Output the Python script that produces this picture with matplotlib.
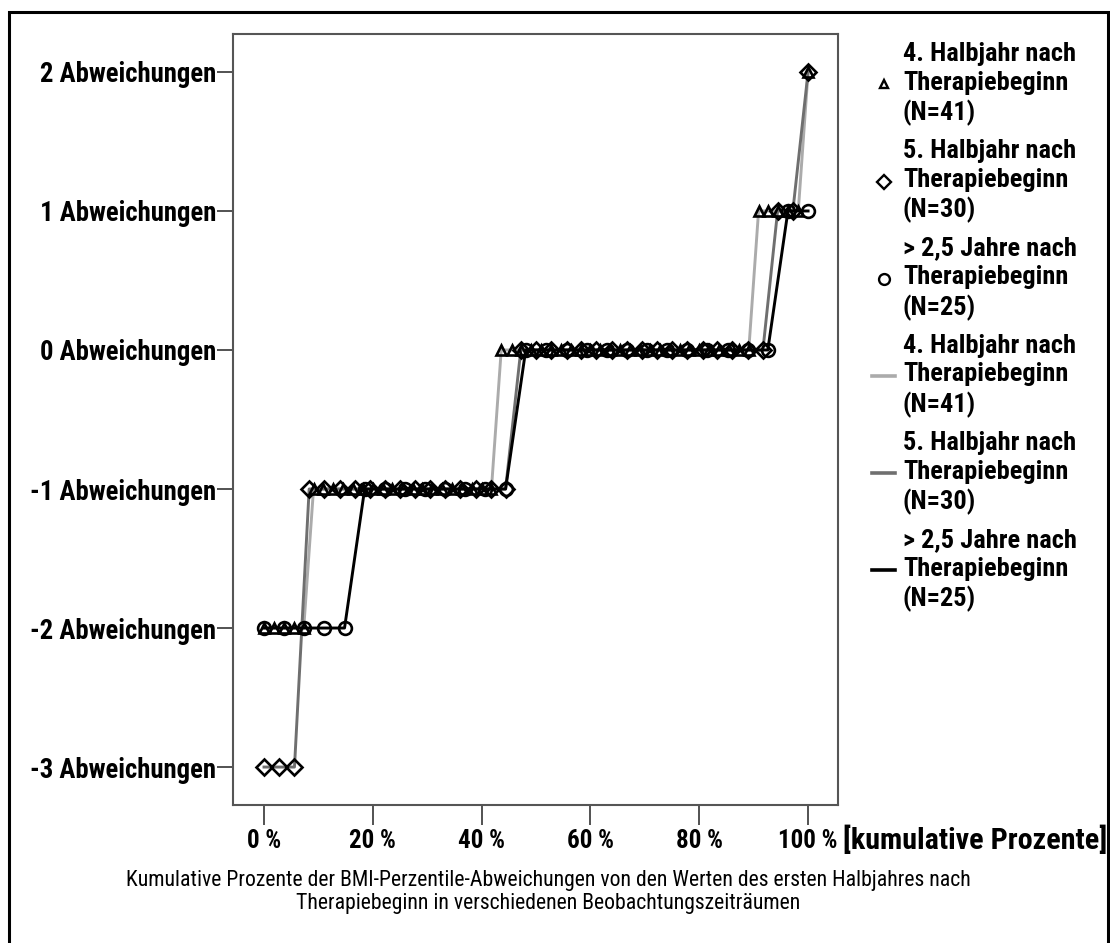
import matplotlib
matplotlib.use("Agg")
import matplotlib.pyplot as plt
from matplotlib import font_manager
from matplotlib.lines import Line2D
from matplotlib.patches import Rectangle

# the original uses a narrow Arial-like face; take the closest one installed
ttf = font_manager.fontManager.ttflist
names = {f.name for f in ttf}
FONT, STRETCH = "Liberation Sans", "normal"
for n in ["Liberation Sans Narrow", "Arial Narrow", "Roboto Condensed",
          "Open Sans Condensed", "Noto Sans Condensed"]:
    if n in names:
        FONT = n
        break
else:
    for n in ["Roboto", "Noto Sans", "Open Sans", "DejaVu Sans"]:
        if any(f.name == n and f.stretch == "condensed" for f in ttf):
            FONT, STRETCH = n, "condensed"
            break
plt.rcParams["font.family"] = [FONT, "DejaVu Sans"]
plt.rcParams["font.stretch"] = STRETCH

# y categories (deviation of BMI percentile class)
y_ticks = [-3, -2, -1, 0, 1, 2]
y_labels = ["-3 Abweichungen", "-2 Abweichungen", "-1 Abweichungen",
            "0 Abweichungen", "1 Abweichungen", "2 Abweichungen"]
x_ticks = [0, 20, 40, 60, 80, 100]
x_labels = ["0 %", "20 %", "40 %", "60 %", "80 %", "100 %"]

series_names = ["4. Halbjahr nach\nTherapiebeginn\n(N=41)",
                "5. Halbjahr nach\nTherapiebeginn\n(N=30)",
                "> 2,5 Jahre nach\nTherapiebeginn\n(N=25)"]

# 4. Halbjahr (triangles, light grey)
pct_4 = [0.0, 1.8, 3.6, 5.5, 7.3,
         9.1, 10.9, 12.7, 14.5, 16.4, 18.2, 20.0, 21.8, 23.6, 25.5, 27.3, 29.1,
         30.9, 32.7, 34.5, 36.4, 38.2, 40.0, 41.8,
         43.6, 45.5, 47.3, 49.1, 50.9, 52.7, 54.5, 56.4, 58.2, 60.0, 61.8, 63.6,
         65.5, 67.3, 69.1, 70.9, 72.7, 74.5, 76.4, 78.2, 80.0, 81.8, 83.6, 85.5,
         87.3, 89.1,
         90.9, 92.7, 94.5, 96.4, 98.2,
         100.0]
dev_4 = [-2, -2, -2, -2, -2,
         -1, -1, -1, -1, -1, -1, -1, -1, -1, -1, -1, -1,
         -1, -1, -1, -1, -1, -1, -1,
         0, 0, 0, 0, 0, 0, 0, 0, 0, 0, 0, 0,
         0, 0, 0, 0, 0, 0, 0, 0, 0, 0, 0, 0,
         0, 0,
         1, 1, 1, 1, 1,
         2]

# 5. Halbjahr (diamonds, mid grey)
pct_5 = [0.0, 2.8, 5.6,
         8.3, 11.1, 13.9, 16.7, 19.4, 22.2, 25.0, 27.8, 30.6, 33.3, 36.1, 38.9,
         41.7, 44.4,
         47.2, 50.0, 52.8, 55.6, 58.3, 61.1, 63.9, 66.7, 69.4, 72.2, 75.0, 77.8,
         80.6, 83.3, 86.1, 88.9, 91.7,
         94.4, 97.2,
         100.0]
dev_5 = [-3, -3, -3,
         -1, -1, -1, -1, -1, -1, -1, -1, -1, -1, -1, -1,
         -1, -1,
         0, 0, 0, 0, 0, 0, 0, 0, 0, 0, 0, 0,
         0, 0, 0, 0, 0,
         1, 1,
         2]

# > 2,5 Jahre (circles, black)
pct_25 = [0.0, 3.7, 7.4, 11.1, 14.8,
          18.5, 22.2, 25.9, 29.6, 33.3, 37.0, 40.7, 44.4,
          48.1, 51.9, 55.6, 59.3, 63.0, 66.7, 70.4, 74.1, 77.8, 81.5, 85.2,
          88.9, 92.6,
          96.3, 100.0]
dev_25 = [-2, -2, -2, -2, -2,
          -1, -1, -1, -1, -1, -1, -1, -1,
          0, 0, 0, 0, 0, 0, 0, 0, 0, 0, 0,
          0, 0,
          1, 1]

colors = ["#ababab", "#6f6f6f", "#000000"]
markers = ["^", "D", "o"]
msizes = [7.0, 8.5, 9.2]

W, H = 1110, 943
fig = plt.figure(figsize=(W / 100, H / 100), dpi=100)
renderer = fig.canvas.get_renderer()


def size_for(s, width_px, weight="normal"):
    # font size (pt) at which string s is width_px wide
    t = fig.text(0, 0, s, fontsize=10, fontweight=weight)
    w = t.get_window_extent(renderer).width
    t.remove()
    return 10 * width_px / w


def text_heights(fs, weight):
    # height of one line and the extra height per added line (linespacing 1)
    t1 = fig.text(0, 0, "Ag", fontsize=fs, fontweight=weight, linespacing=1.0)
    t2 = fig.text(0, 0, "Ag\nAg", fontsize=fs, fontweight=weight,
                  linespacing=1.0)
    h1 = t1.get_window_extent(renderer).height
    h2 = t2.get_window_extent(renderer).height
    t1.remove()
    t2.remove()
    return h1, h2 - h1


fs_y = size_for("2 Abweichungen", 176, "bold")
fs_x = size_for("100 %", 60, "bold")
fs_unit = size_for("[kumulative Prozente]", 264, "bold")
fs_leg = size_for("4. Halbjahr nach", 172, "bold")
fs_cap = size_for("Kumulative Prozente der BMI-Perzentile-Abweichungen von den "
                  "Werten des ersten Halbjahres nach", 841)

ax = fig.add_axes([233 / W, 1 - 805 / H, (838 - 233) / W, (805 - 34) / H])

data = [(pct_4, dev_4), (pct_5, dev_5), (pct_25, dev_25)]
for (px, dv), c in zip(data, colors):
    ax.plot(px, dv, color=c, lw=2.1, zorder=2)
for (px, dv), m, ms in zip(data, markers, msizes):
    ax.plot(px, dv, ls="none", marker=m, ms=ms, mfc="none", mec="black",
            mew=1.9, zorder=3)

ax.set_xlim(-5.7, 105.5)
ax.set_ylim(-3.273, 2.273)
ax.set_yticks(y_ticks, y_labels, fontsize=fs_y, fontweight="bold")
ax.set_xticks(x_ticks, x_labels, fontsize=fs_x, fontweight="bold")
ax.tick_params(axis="y", length=11.5, width=1.3, color="#444444", pad=0.5)
ax.tick_params(axis="x", length=14.4, width=1.3, color="#444444", pad=3)
for s in ax.spines.values():
    s.set_color("#555555")
    s.set_linewidth(1.5)

# legend: markers first, then lines; 30 px line pitch, 97 px entry pitch
leg_px = fs_leg * 100 / 72
h1, per_line = text_heights(fs_leg, "bold")
ls_leg = 30 / per_line
gap = 97 - (2 * 30 + h1)
handles = [Line2D([], [], ls="none", marker=m, ms=ms * 0.85, mfc="none",
                  mec="black", mew=1.7) for m, ms in zip(markers, msizes)]
handles += [Line2D([], [], color=c, lw=2.6) for c in colors]
leg = fig.legend(handles, series_names * 2, loc="upper left",
                 bbox_to_anchor=(872 / W, 1 - 42 / H), frameon=False,
                 borderpad=0, borderaxespad=0, handlelength=23 / leg_px,
                 handletextpad=8 / leg_px, labelspacing=max(gap, 0) / leg_px,
                 prop={"size": fs_leg, "weight": "bold"})
for t in leg.get_texts():
    t.set_linespacing(ls_leg)

fig.text(843 / W, 1 - 849 / H, "[kumulative Prozente]", fontsize=fs_unit,
         fontweight="bold", va="baseline", ha="left")

fig.text(548 / W, 1 - 886 / H,
         "Kumulative Prozente der BMI-Perzentile-Abweichungen von den "
         "Werten des ersten Halbjahres nach",
         fontsize=fs_cap, ha="center", va="baseline")
fig.text(548 / W, 1 - 909 / H,
         "Therapiebeginn in verschiedenen Beobachtungszeiträumen",
         fontsize=fs_cap, ha="center", va="baseline")

# outer frame
fig.add_artist(Rectangle((9 / W, -0.05), (1108 - 9) / W, 1.05 - 12 / H,
                         transform=fig.transFigure, fill=False,
                         edgecolor="black", lw=2.2))

fig.savefig("out.png", dpi=100)
